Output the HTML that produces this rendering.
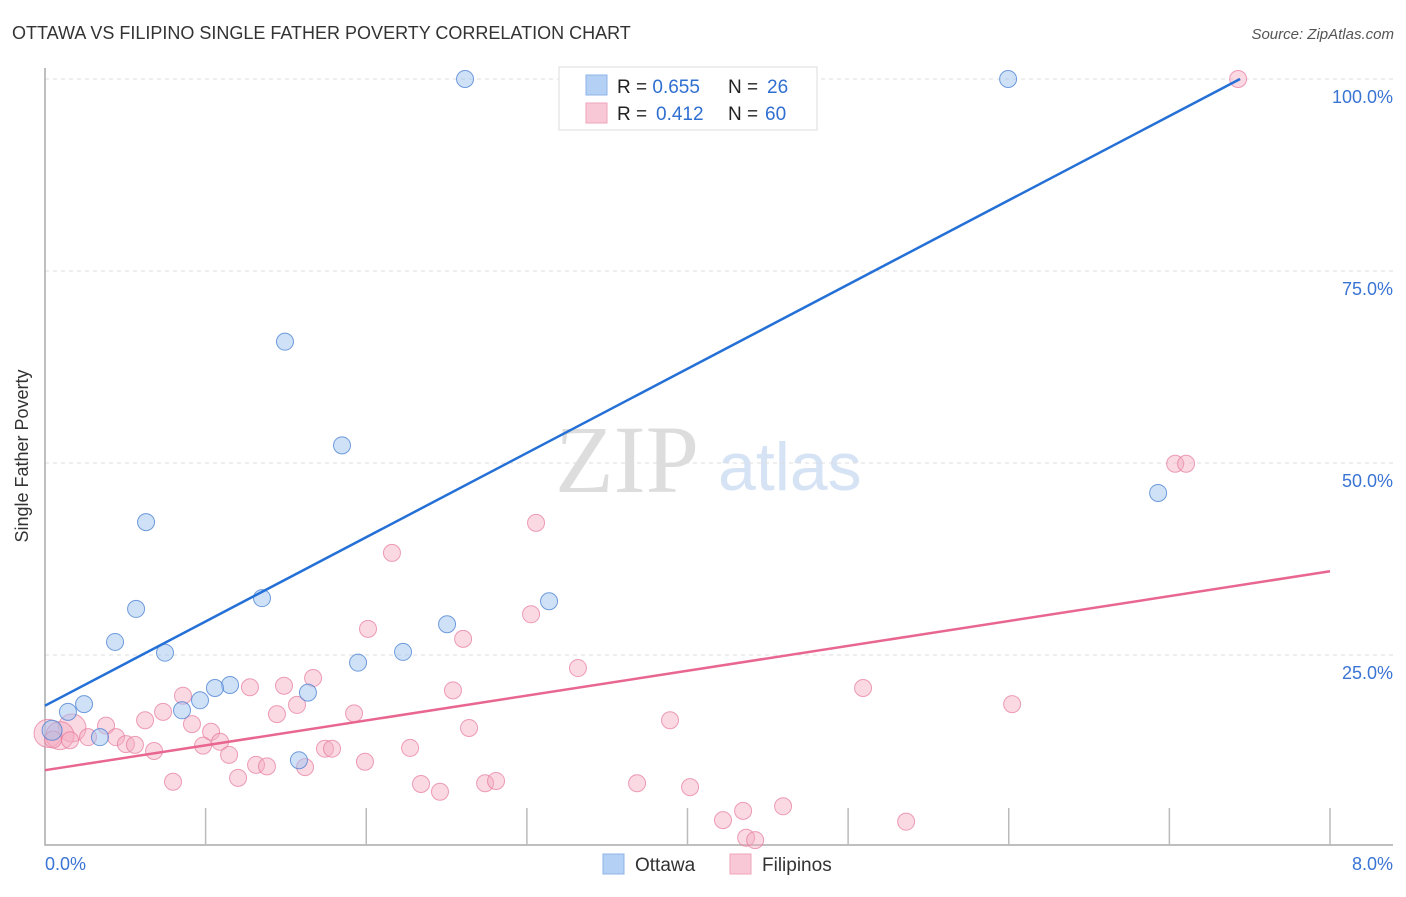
<!DOCTYPE html>
<html><head><meta charset="utf-8"><style>
body{margin:0;background:#fff;font-family:"Liberation Sans",sans-serif}
</style></head><body>
<svg width="1406" height="892" xmlns="http://www.w3.org/2000/svg" id="chart" font-family="Liberation Sans, sans-serif">
<text x="12" y="39" font-size="18" fill="#333">OTTAWA VS FILIPINO SINGLE FATHER POVERTY CORRELATION CHART</text>
<text x="1394" y="39" font-size="15" fill="#555" text-anchor="end" font-style="italic">Source: ZipAtlas.com</text>
<text x="28" y="456" font-size="18" fill="#333" text-anchor="middle" transform="rotate(-90 28 456)">Single Father Poverty</text>
<text x="555" y="492" font-size="96" fill="#ddd" font-family="Liberation Serif, serif">ZIP</text>
<text x="718" y="490" font-size="68" fill="#d6e3f5">atlas</text>
<g id="grid"></g><g id="axes"></g><g id="pts"></g><g id="lines"></g>
<g>
<rect x="559" y="67" width="258" height="63" fill="#fff" stroke="#ddd"/>
<rect x="586" y="75" width="21" height="20" fill="#b5d0f5" stroke="#8fb3e8"/>
<rect x="586" y="103" width="21" height="20" fill="#f9c8d6" stroke="#eea4ba"/>
<text x="617" y="93" font-size="19" fill="#222">R = <tspan fill="#2f6fd0">0.655</tspan><tspan x="728">N = </tspan><tspan x="767" fill="#2f6fd0">26</tspan></text>
<text x="617" y="120" font-size="19" fill="#222">R = <tspan x="656" fill="#2f6fd0">0.412</tspan><tspan x="728">N = </tspan><tspan x="765" fill="#2f6fd0">60</tspan></text>
</g>
<g>
<rect x="603" y="854" width="21" height="20" fill="#b5d0f5" stroke="#8fb3e8"/>
<text x="635" y="871" font-size="19" fill="#333">Ottawa</text>
<rect x="730" y="854" width="21" height="20" fill="#f9c8d6" stroke="#eea4ba"/>
<text x="762" y="871" font-size="19" fill="#333">Filipinos</text>
</g>
</svg>
<script>
const xTicks=[0,1,2,3,4,5,6,7,8];
const yTicks=[25,50,75,100];
const yTickLabels=["25.0%","50.0%","75.0%","100.0%"];
const ottawaX=[2.615,3.561,4.564,5.996,1.494,1.849,0.629,6.930,0.567,1.351,3.138,2.503,0.436,0.747,2.229,1.949,1.152,1.058,1.637,0.965,0.853,0.243,0.143,0.044,0.342,1.581];
const ottawaY=[100,100,100,100,65.8,52.3,42.3,46.1,31.0,32.4,32.0,29.0,26.7,25.3,25.4,24.0,21.1,20.7,20.1,19.1,17.8,18.6,17.6,15.2,14.3,11.3];
const filX=[7.428,7.036,7.104,3.057,2.160,3.026,2.011,2.603,3.318,1.669,1.488,1.276,0.859,2.540,5.093,6.021,1.569,1.444,0.735,1.924,0.623,3.891,0.380,0.915,2.640,1.034,0.168,0.019,0.093,0.268,0.442,0.156,0.504,0.560,1.090,0.984,0.679,1.743,1.787,2.273,1.146,1.314,1.382,1.992,1.619,1.202,0.797,2.341,2.740,2.808,3.686,4.016,2.459,4.595,4.346,4.221,5.361,4.365,4.421,0.05];
const filY=[100,49.9,49.9,42.2,38.3,30.3,28.4,27.1,23.3,22.0,21.0,20.8,19.7,20.4,20.7,18.6,18.5,17.3,17.6,17.4,16.5,16.5,15.8,16.0,15.5,15.0,15.5,14.8,14.5,14.3,14.3,13.9,13.4,13.3,13.7,13.2,12.5,12.8,12.8,12.9,12.0,10.7,10.5,11.1,10.4,9.0,8.5,8.2,8.3,8.6,8.3,7.8,7.2,5.3,4.7,3.5,3.3,1.2,0.9,14.0];
const filBig=[26,27,28];
const ottawaLine=[[0,18.4],[7.44,100]];
const filLine=[[0,10.0],[8,35.9]];
const NS="http://www.w3.org/2000/svg";
const X=v=>45+v/8*1285, Y=v=>847-v/25*192;
function mk(t,a,p){const e=document.createElementNS(NS,t);for(const k in a)e.setAttribute(k,a[k]);p.appendChild(e);return e;}
const grid=document.getElementById('grid'),axes=document.getElementById('axes'),pts=document.getElementById('pts'),lines=document.getElementById('lines');
yTicks.forEach((t,i)=>{
 const l=mk('line',{x1:45,x2:1393,y1:Y(t),y2:Y(t),stroke:'#ddd','stroke-dasharray':'4 4'},grid);
 
 
 const tx=mk('text',{x:1393,y:Y(t)+24,'font-size':18,fill:'#3a74d4','text-anchor':'end'},grid);
 tx.textContent=yTickLabels[i];
 
 
});
const ax=mk('path',{d:'M45 68V845H1393',fill:'none',stroke:'#aaa','stroke-width':1.5},axes);


xTicks.forEach(t=>{if(t===0)return;
 const l=mk('line',{x1:X(t),x2:X(t),y1:808,y2:845,stroke:'#bbb','stroke-width':1.5},axes);
 
 
});
const x0=mk('text',{x:45,y:870,'font-size':18,fill:'#3a74d4'},axes);x0.textContent='0.0%';


const x8=mk('text',{x:1393,y:870,'font-size':18,fill:'#3a74d4','text-anchor':'end'},axes);x8.textContent='8.0%';


filX.forEach((v,i)=>{
 const c=mk('circle',{cx:X(v),cy:Y(filY[i]),r:filBig.includes(i)?14:8.5,fill:'rgba(244,170,192,0.45)',stroke:'rgba(230,120,155,0.7)','stroke-width':1},pts);
 
 
});
ottawaX.forEach((v,i)=>{
 const c=mk('circle',{cx:X(v),cy:Y(ottawaY[i]),r:i===23?10:8.5,fill:'rgba(160,195,240,0.5)',stroke:'rgba(70,125,210,0.75)','stroke-width':1},pts);
 
 
});
const bl=mk('line',{x1:X(ottawaLine[0][0]),y1:Y(ottawaLine[0][1]),x2:X(ottawaLine[1][0]),y2:Y(ottawaLine[1][1]),stroke:'#2470d6','stroke-width':2.5},lines);


const pl=mk('line',{x1:X(filLine[0][0]),y1:Y(filLine[0][1]),x2:X(filLine[1][0]),y2:Y(filLine[1][1]),stroke:'#e86690','stroke-width':2.5},lines);


</script>
</body></html>
